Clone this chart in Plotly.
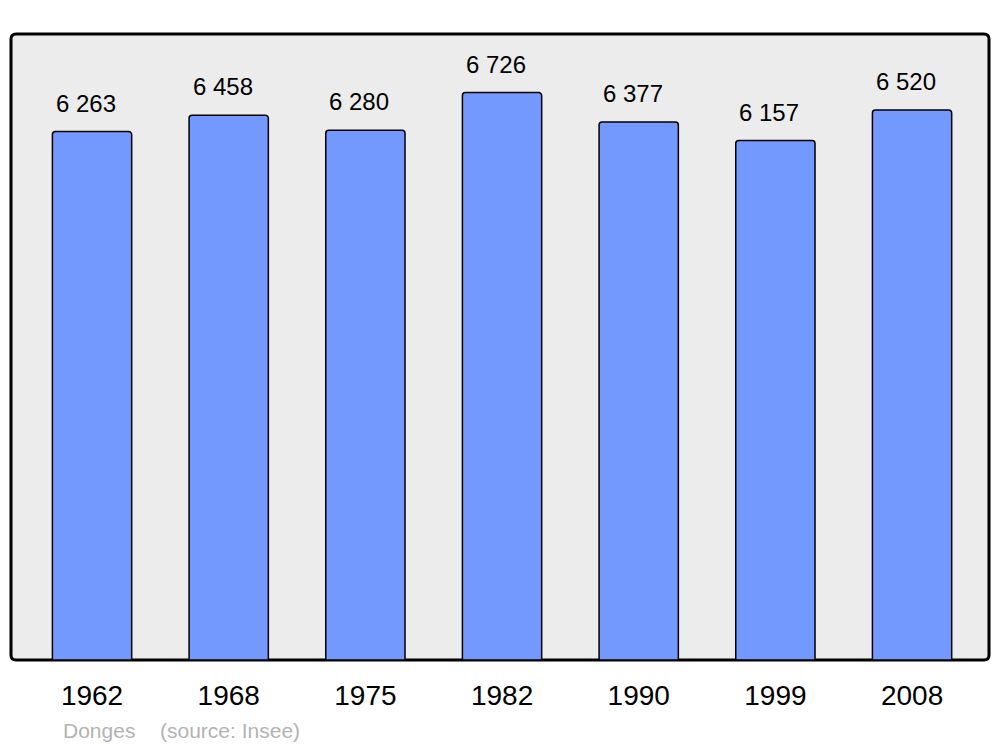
import plotly.graph_objects as go

years = ["1962", "1968", "1975", "1982", "1990", "1999", "2008"]
population = [6263, 6458, 6280, 6726, 6377, 6157, 6520]
value_labels = ["6 263", "6 458", "6 280", "6 726", "6 377", "6 157", "6 520"]
commune = "Donges"
source = "(source: Insee)"

xs = list(range(len(years)))
FONT = "Liberation Sans, Arial, sans-serif"

fig = go.Figure()
fig.add_trace(go.Bar(
    x=xs, y=population, width=0.58,
    marker=dict(color="#7399ff", line=dict(color="black", width=1.5), cornerradius=3),
    hoverinfo="skip",
))

for x, v, t in zip(xs, population, value_labels):
    fig.add_annotation(x=x, y=v, text=t, showarrow=False, yanchor="bottom",
                       yshift=13, xshift=-6, font=dict(family=FONT, size=24, color="black"))

# rounded plot frame
W, H = 978, 626
rx, ry = 5 / W, 5 / H
path = (f"M {rx},0 L {1-rx},0 Q 1,0 1,{ry} L 1,{1-ry} Q 1,1 {1-rx},1 "
        f"L {rx},1 Q 0,1 0,{1-ry} L 0,{ry} Q 0,0 {rx},0 Z")
fig.add_shape(type="path", path=path, xref="paper", yref="paper",
              fillcolor="#ececec", line=dict(color="black", width=3), layer="below")

fig.add_annotation(x=(61 - 11) / W, y=(660 - 730) / H, xref="paper", yref="paper",
                   text=commune, showarrow=False, xanchor="left", yanchor="middle",
                   font=dict(family=FONT, size=21, color="#b3b3b3"))
fig.add_annotation(x=(158 - 11) / W, y=(660 - 730) / H, xref="paper", yref="paper",
                   text=source, showarrow=False, xanchor="left", yanchor="middle",
                   font=dict(family=FONT, size=21, color="#b3b3b3"))

fig.update_layout(
    width=992, height=739,
    margin=dict(l=3, r=11, t=26, b=87),
    paper_bgcolor="white", plot_bgcolor="white",
    showlegend=False,
    xaxis=dict(range=[-0.593, 6.563], tickvals=xs, ticktext=years,
               showgrid=False, zeroline=False, showline=False, ticks="",
               ticklabelstandoff=16,
               tickfont=dict(family=FONT, size=28, color="black"), fixedrange=True),
    yaxis=dict(range=[0, 7420], showgrid=False, zeroline=False, showline=False,
               showticklabels=False, ticks="", fixedrange=True),
)

fig.write_html("out.html", config={"displayModeBar": False})
